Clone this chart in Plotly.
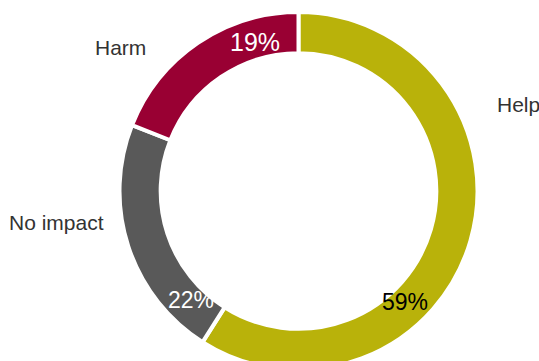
import plotly.graph_objects as go

categories = ["Help", "No impact", "Harm"]
values = [59, 22, 19]
pct_labels = ["59%", "22%", "19%"]
colors = ["#B9B20A", "#595959", "#990033"]
pct_colors = ["#000000", "#FFFFFF", "#FFFFFF"]
pct_sizes = [23, 23, 25]

W, H = 539, 380
cx, cy, R = 298.5, 191, 179

fig = go.Figure(go.Pie(
    labels=categories,
    values=values,
    hole=0.77,
    sort=False,
    direction="clockwise",
    rotation=0,
    marker=dict(colors=colors, line=dict(color="white", width=4)),
    textinfo="none",
    hoverinfo="label+percent",
    showlegend=False,
    domain=dict(x=[(cx - R) / W, (cx + R) / W], y=[(H - cy - R) / H, (H - cy + R) / H]),
))

# label positions (pixels from top-left)
cat_pos = {"Help": (518, 105), "No impact": (56, 222), "Harm": (120, 47)}
pct_pos = {"Help": (405, 302), "No impact": (191, 300), "Harm": (255, 42)}

annotations = []
for i, c in enumerate(categories):
    x, y = cat_pos[c]
    annotations.append(dict(x=x / W, y=(H - y) / H, xref="paper", yref="paper", text=c,
                            showarrow=False, xanchor="center", yanchor="middle",
                            font=dict(family="Liberation Sans, Arial", size=21, color="#333333")))
    x, y = pct_pos[c]
    annotations.append(dict(x=x / W, y=(H - y) / H, xref="paper", yref="paper", text=pct_labels[i],
                            showarrow=False, xanchor="center", yanchor="middle",
                            font=dict(family="Liberation Sans, Arial", size=pct_sizes[i], color=pct_colors[i])))

fig.update_layout(
    width=W, height=H,
    margin=dict(l=0, r=0, t=0, b=0),
    paper_bgcolor="white", plot_bgcolor="white",
    annotations=annotations,
)

fig.write_html("out.html", config={"displayModeBar": False},
               post_script="document.body.style.margin='0';document.body.style.overflow='hidden';document.documentElement.style.overflow='hidden';")
